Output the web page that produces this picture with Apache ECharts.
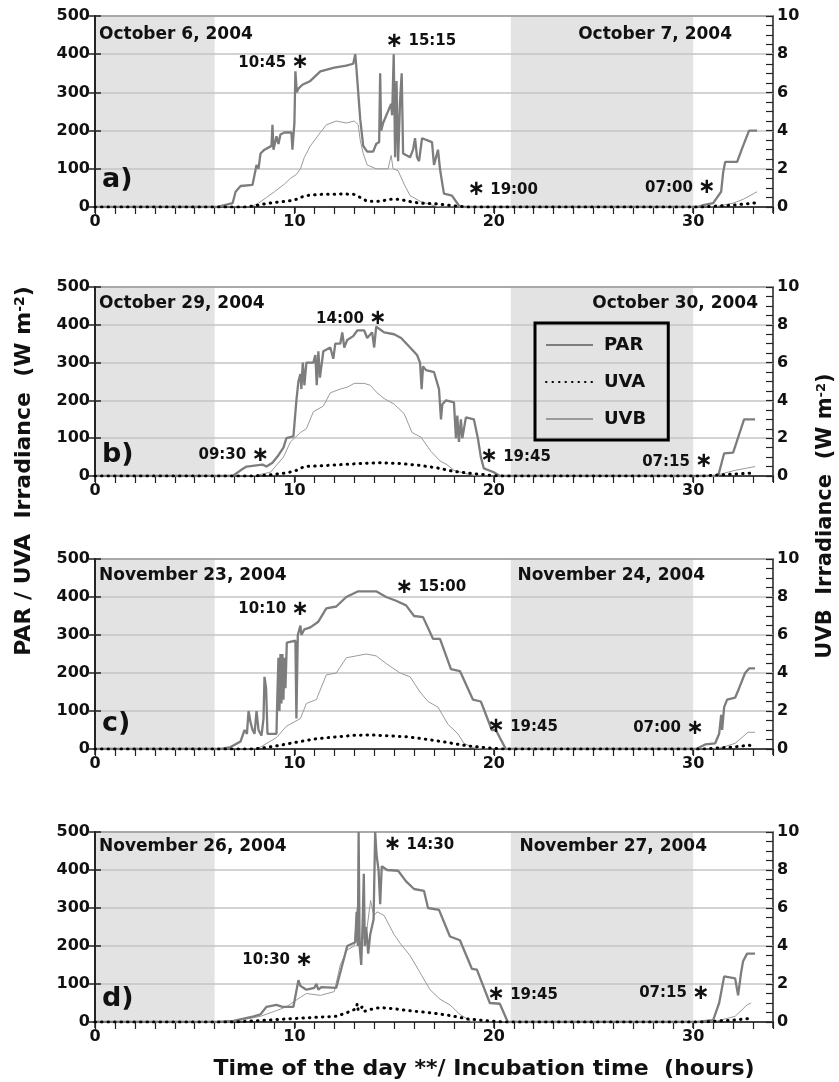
<!DOCTYPE html>
<html>
<head>
<meta charset="utf-8">
<script src="https://cdn.jsdelivr.net/npm/echarts@6/dist/echarts.min.js"></script>
<style>
  html, body { margin: 0; padding: 0; background: #fff; }
  #chart { width: 839px; height: 1082px; }
</style>
</head>
<body>
<div id="chart"></div>
<script>
// 数据: [hour, value]; PAR / UVA in W m-2 (left axis), UVB in W m-2 (right axis)
var parA = [[0,0],[6.1,0],[6.5,5],[6.9,10],[7.05,40],[7.3,55],[7.9,58],[8.1,110],[8.2,100],[8.3,140],[8.5,150],[8.85,160],[8.9,215],[8.95,150],[9.1,185],[9.2,165],[9.3,190],[9.5,195],[9.85,195],[9.9,150],[10.0,220],[10.05,355],[10.12,300],[10.2,310],[10.4,320],[10.8,330],[11.3,355],[12.0,365],[12.6,370],[12.95,375],[13.05,400],[13.1,370],[13.2,300],[13.3,230],[13.45,160],[13.65,145],[13.95,145],[14.1,165],[14.25,170],[14.3,350],[14.35,200],[14.45,220],[14.85,270],[14.9,240],[14.98,400],[15.05,130],[15.12,330],[15.2,120],[15.3,280],[15.38,350],[15.45,140],[15.8,130],[15.95,150],[16.05,180],[16.15,130],[16.25,120],[16.4,180],[16.9,170],[17.0,110],[17.1,130],[17.2,150],[17.3,100],[17.42,60],[17.5,35],[17.9,30],[18.3,0],[30.2,0],[30.5,5],[31.0,10],[31.2,25],[31.4,40],[31.5,90],[31.6,118],[32.2,118],[32.5,160],[32.8,200],[33.2,200]]
var uvaA = [[0,0],[7.5,0],[8.0,3],[8.5,8],[9.0,12],[9.6,15],[10.0,18],[10.3,25],[10.6,30],[11.3,33],[12.5,34],[13.0,33],[13.3,25],[13.65,15],[14.3,15],[14.8,20],[15.3,20],[15.7,15],[16.3,10],[17.2,8],[18.0,3],[18.7,0],[30.5,0],[31.0,2],[32.0,5],[33.0,10],[33.2,12]]
var uvbA = [[0,0],[7.8,0],[8.2,0.2],[8.6,0.5],[9.0,0.8],[9.5,1.2],[9.8,1.5],[10.1,1.7],[10.3,2.0],[10.5,2.6],[10.8,3.2],[11.3,3.9],[11.6,4.3],[12.1,4.5],[12.6,4.4],[13.0,4.5],[13.2,4.3],[13.3,3.5],[13.45,2.8],[13.65,2.2],[14.1,2.0],[14.7,2.0],[14.85,2.7],[14.95,2.0],[15.2,1.9],[15.5,1.2],[15.8,0.6],[16.3,0.3],[16.9,0.1],[17.3,0],[31.0,0],[31.5,0.1],[32.0,0.2],[32.5,0.4],[33.2,0.8]]

var parB = [[0,0],[6.9,0],[7.3,15],[7.6,25],[8.4,30],[8.6,25],[8.9,35],[9.2,55],[9.45,75],[9.6,100],[9.95,105],[10.1,200],[10.2,250],[10.3,270],[10.35,230],[10.42,300],[10.5,240],[10.6,300],[10.95,300],[11.05,320],[11.12,240],[11.2,330],[11.28,260],[11.45,330],[11.8,340],[11.95,310],[12.05,350],[12.3,350],[12.4,380],[12.5,340],[12.65,360],[12.95,370],[13.15,385],[13.5,385],[13.65,365],[13.9,380],[14.0,340],[14.1,395],[14.5,380],[15.0,375],[15.35,365],[15.8,340],[16.15,320],[16.3,300],[16.38,230],[16.45,290],[16.6,280],[17.0,275],[17.25,230],[17.35,150],[17.42,190],[17.6,200],[18.0,195],[18.1,100],[18.17,160],[18.25,90],[18.35,150],[18.42,100],[18.6,155],[19.0,150],[19.2,100],[19.35,50],[19.5,20],[20.0,10],[20.3,0],[31.25,0],[31.55,60],[32.0,62],[32.55,150],[33.1,150]]
var uvaB = [[0,0],[8.0,0],[8.8,3],[9.6,8],[10.1,15],[10.5,25],[11.3,27],[12.3,30],[13.3,33],[14.3,35],[15.3,33],[16.3,28],[17.2,21],[18.0,12],[19.0,6],[20.0,1],[20.5,0],[30.5,0],[31.0,2],[32.0,5],[33.1,8]]
var uvbB = [[0,0],[7.9,0],[8.8,0.2],[9.45,1.0],[9.8,1.8],[10.3,2.3],[10.6,2.5],[10.95,3.4],[11.45,3.7],[11.8,4.4],[12.3,4.6],[12.65,4.7],[13.0,4.9],[13.5,4.9],[13.8,4.8],[14.15,4.4],[14.5,4.1],[15.0,3.8],[15.5,3.3],[15.9,2.3],[16.35,2.05],[16.85,1.3],[17.3,0.8],[17.65,0.6],[18.0,0.3],[18.7,0.1],[19.2,0],[31.0,0],[32.1,0.3],[32.6,0.4],[33.1,0.5]]

var parC = [[0,0],[6.3,0],[6.8,5],[7.3,20],[7.5,50],[7.62,40],[7.7,100],[7.8,70],[7.9,50],[8.0,40],[8.1,100],[8.2,50],[8.35,35],[8.45,80],[8.5,190],[8.58,160],[8.65,40],[9.1,40],[9.15,150],[9.2,240],[9.25,100],[9.3,250],[9.35,120],[9.4,250],[9.45,130],[9.5,240],[9.55,160],[9.62,280],[10.05,285],[10.1,80],[10.17,300],[10.3,325],[10.35,300],[10.5,315],[10.8,320],[11.2,335],[11.6,370],[12.1,375],[12.6,400],[13.2,415],[14.1,415],[14.6,400],[15.1,390],[15.6,378],[16.0,350],[16.45,347],[16.95,290],[17.3,290],[17.85,210],[18.3,205],[18.95,130],[19.35,125],[19.9,50],[20.1,50],[20.6,0],[30.15,0],[30.6,12],[31.1,15],[31.3,40],[31.4,90],[31.45,50],[31.55,110],[31.7,130],[32.1,135],[32.3,160],[32.6,200],[32.8,212],[33.1,212]]
var uvaC = [[0,0],[7.8,0],[8.3,2],[9.3,10],[10.1,18],[11.1,27],[12.1,32],[13.0,36],[13.8,37],[14.6,35],[15.7,32],[16.7,25],[17.7,17],[18.7,8],[19.7,3],[20.5,0],[30.5,0],[31.0,2],[32.0,5],[32.8,10],[33.1,6]]
var uvbC = [[0,0],[8.0,0],[8.3,0.1],[9.1,0.6],[9.6,1.2],[10.3,1.6],[10.6,2.4],[11.1,2.6],[11.6,3.9],[12.1,4.0],[12.6,4.8],[13.1,4.9],[13.6,5.0],[14.1,4.9],[14.6,4.5],[15.3,4.0],[15.8,3.8],[16.3,3.0],[16.7,2.5],[17.2,2.2],[17.7,1.3],[18.2,0.8],[18.5,0.3],[19.0,0.06],[19.5,0],[31.0,0],[31.5,0.1],[32.1,0.3],[32.75,0.88],[33.1,0.88]]

var parD = [[0,0],[6.1,0],[6.95,3],[7.96,15],[8.3,20],[8.6,40],[9.1,45],[9.4,40],[9.95,40],[10.2,110],[10.3,95],[10.45,90],[10.6,85],[11.0,90],[11.1,100],[11.2,85],[11.35,92],[12.1,90],[12.4,150],[12.65,200],[13.05,210],[13.12,290],[13.18,200],[13.22,500],[13.27,200],[13.35,150],[13.42,260],[13.48,390],[13.53,200],[13.6,250],[13.7,180],[13.8,230],[13.97,270],[14.05,500],[14.12,440],[14.22,400],[14.3,310],[14.38,410],[14.65,400],[15.2,398],[15.6,370],[16.0,350],[16.5,345],[16.7,300],[17.25,295],[17.8,225],[18.3,215],[18.9,140],[19.15,138],[19.8,50],[20.3,48],[20.7,0],[30.2,0],[31.0,5],[31.3,50],[31.55,120],[32.1,115],[32.25,70],[32.4,130],[32.5,160],[32.7,180],[33.1,180]]
var uvaD = [[0,0],[7.0,0],[8.0,3],[9.6,8],[11.3,13],[12.1,15],[12.65,25],[13.1,35],[13.15,48],[13.2,30],[13.3,25],[13.4,40],[13.5,28],[13.8,33],[14.3,38],[15.0,35],[15.7,30],[16.7,25],[17.7,18],[18.7,8],[19.7,3],[20.5,0],[30.5,0],[31.0,2],[32.0,5],[33.0,10]]
var uvbD = [[0,0],[6.8,0],[7.3,0.1],[8.3,0.3],[9.1,0.6],[9.6,0.8],[10.3,1.3],[10.6,1.5],[11.3,1.4],[12.0,1.6],[12.3,3.0],[12.65,3.8],[13.0,4.0],[13.15,6.0],[13.3,4.0],[13.65,5.0],[13.82,6.4],[13.98,5.6],[14.15,5.8],[14.5,5.6],[15.0,4.6],[15.33,4.1],[15.8,3.5],[16.3,2.6],[16.8,1.7],[17.3,1.2],[17.8,0.9],[18.3,0.4],[18.9,0],[31.0,0],[32.1,0.3],[32.7,0.9],[32.9,1.0]]

// 注释: [hour, value, text, side]
var annA = [[10.4,377,'10:45','L'],[14.9,434,'15:15','R'],[19.0,45,'19:00','R'],[30.8,50,'07:00','L']]
var annB = [[14.3,416,'14:00','L'],[8.4,55,'09:30','L'],[19.65,51,'19:45','R'],[30.65,38,'07:15','L']]
var annC = [[10.4,368,'10:10','L'],[15.4,426,'15:00','R'],[20.0,58,'19:45','R'],[30.2,55,'07:00','L']]
var annD = [[10.6,163,'10:30','L'],[14.8,466,'14:30','R'],[20.0,71,'19:45','R'],[30.5,76,'07:15','L']]

var dayLabels = [['October 6, 2004','October 7, 2004'],['October 29, 2004','October 30, 2004'],['November 23, 2004','November 24, 2004'],['November 26, 2004','November 27, 2004']]
var panelNames = ['a)', 'b)', 'c)', 'd)']
var nightBands = [[0, 6], [20.85, 30]]
var seriesNames = ['PAR', 'UVA', 'UVB']

var panels = [
  { par: parA, uva: uvaA, uvb: uvbA, ann: annA },
  { par: parB, uva: uvaB, uvb: uvbB, ann: annB },
  { par: parC, uva: uvaC, uvb: uvbC, ann: annC },
  { par: parD, uva: uvaD, uvb: uvbD, ann: annD }
]

var FONT = '"DejaVu Sans", "Liberation Sans", sans-serif'
var gridTop = [16, 287, 559, 832]
var gridH = [191, 189, 190, 190]
var dateRight = [732, 758, 705, 707]
var dateY = [36, 305, 577, 848]
var letterY = [183, 458, 727, 1002]

var myChart = echarts.init(document.getElementById('chart'))

var grids = [], xAxes = [], yAxes = [], series = [], graphics = []
var axisColor = '#222'

panels.forEach(function (p, i) {
  grids.push({
    left: 95, right: 66, top: gridTop[i], height: gridH[i],
    show: true, borderColor: axisColor, borderWidth: 1.5, backgroundColor: 'transparent'
  })
  // x轴 主刻度 + 小时刻度
  xAxes.push({
    gridIndex: i, type: 'value', min: 0, max: 34, interval: 10,
    axisLine: { lineStyle: { color: axisColor, width: 1.5 } },
    axisTick: { length: 6, lineStyle: { color: axisColor, width: 1.5 } },
    axisLabel: {
      margin: 7, fontSize: 16, fontWeight: 'bold', color: '#111', fontFamily: FONT,
      formatter: function (v) { return v % 10 === 0 ? String(v) : '' }
    },
    splitLine: { show: false }
  })
  xAxes.push({
    gridIndex: i, type: 'value', min: 0, max: 34, interval: 1,
    axisLine: { show: false },
    axisTick: { inside: true, length: 7, lineStyle: { color: axisColor, width: 1.2 } },
    axisLabel: { show: false },
    splitLine: { show: false }
  })
  yAxes.push({
    gridIndex: i, type: 'value', position: 'left', min: 0, max: 500, interval: 100,
    axisLine: { show: true, lineStyle: { color: axisColor, width: 1.5 } },
    axisTick: { show: true, length: 6, lineStyle: { color: axisColor, width: 1.5 } },
    axisLabel: { margin: 5, fontSize: 16, fontWeight: 'bold', color: '#111', fontFamily: FONT },
    splitLine: { show: true, lineStyle: { color: '#c4c4c4', width: 1.5 } }
  })
  yAxes.push({
    gridIndex: i, type: 'value', position: 'right', min: 0, max: 10, interval: 2,
    axisLine: { show: true, lineStyle: { color: axisColor, width: 1.5 } },
    axisTick: { show: true, length: 6, lineStyle: { color: axisColor, width: 1.5 } },
    axisLabel: { margin: 4, fontSize: 16, fontWeight: 'bold', color: '#111', fontFamily: FONT },
    splitLine: { show: false }
  })
  yAxes.push({
    gridIndex: i, type: 'value', position: 'right', min: 0, max: 10, interval: 0.5,
    axisLine: { show: false },
    axisTick: { show: true, inside: true, length: 7, lineStyle: { color: axisColor, width: 1.2 } },
    axisLabel: { show: false },
    splitLine: { show: false }
  })

  // 夜间灰色背景 (放在网格线下面)
  series.push({
    type: 'line', xAxisIndex: i * 2, yAxisIndex: i * 3, data: [], silent: true,
    markArea: {
      silent: true, z: -1,
      itemStyle: { color: '#e3e3e3' },
      data: nightBands.map(function (b) { return [{ xAxis: b[0] }, { xAxis: b[1] }] })
    }
  })
  series.push({
    name: 'PAR', type: 'line', xAxisIndex: i * 2, yAxisIndex: i * 3, data: p.par,
    symbol: 'none', z: 4, color: '#7d7d7d',
    lineStyle: { color: '#7d7d7d', width: 2.3 }
  })
  series.push({
    name: 'UVA', type: 'line', xAxisIndex: i * 2, yAxisIndex: i * 3, data: p.uva,
    symbol: 'none', z: 5, color: '#000',
    lineStyle: { color: '#000', width: 3, type: [0.5, 6], cap: 'round' }
  })
  series.push({
    name: 'UVB', type: 'line', xAxisIndex: i * 2, yAxisIndex: i * 3 + 1, data: p.uvb,
    symbol: 'none', z: 3, color: '#9a9a9a',
    lineStyle: { color: '#9a9a9a', width: 1 }
  })
  // 时间注释, 星号落在数据点上
  series.push({
    type: 'scatter', xAxisIndex: i * 2, yAxisIndex: i * 3, symbolSize: 1, silent: true, z: 6,
    itemStyle: { color: 'rgba(0,0,0,0)', opacity: 1 },
    data: p.ann.map(function (a) {
      return {
        value: [a[0], a[1]], name: a[2], side: a[3],
        label: a[3] === 'L' ? { position: 'left', distance: -7 } : { position: 'right', distance: -7 }
      }
    }),
    label: {
      show: true, color: '#111',
      formatter: function (d) {
        return d.data.side === 'L' ? '{t|' + d.name + ' }{s|\u2217}' : '{s|\u2217}{t| ' + d.name + '}'
      },
      rich: {
        t: { fontSize: 15, fontWeight: 'bold', fontFamily: FONT, color: '#111' },
        s: { fontSize: 21, fontWeight: 'bold', fontFamily: FONT, color: '#111' }
      }
    }
  })

  graphics.push({
    type: 'text', left: 99, top: dateY[i] - 10, z: 100,
    style: { text: dayLabels[i][0], font: 'bold 17px ' + FONT, fill: '#111' }
  })
  graphics.push({
    type: 'text', right: 839 - dateRight[i], top: dateY[i] - 10, z: 100,
    style: { text: dayLabels[i][1], font: 'bold 17px ' + FONT, fill: '#111' }
  })
  graphics.push({
    type: 'text', left: 102, top: letterY[i] - 17, z: 100,
    style: { text: panelNames[i], font: 'bold 27px ' + FONT, fill: '#111' }
  })
})

var titleRich = {
  t: { font: 'bold 21px ' + FONT, fill: '#111' },
  sup: { font: 'bold 13px ' + FONT, fill: '#111', verticalAlign: 'top' }
}
var titleRichL = {
  t: { font: 'bold 22px ' + FONT, fill: '#111' },
  sup: { font: 'bold 14px ' + FONT, fill: '#111', verticalAlign: 'top' }
}
graphics.push({
  type: 'text', x: 24, y: 471, rotation: Math.PI / 2, z: 100,
  style: {
    text: '{t|PAR / UVA  Irradiance  (W m}{sup|-2}{t|)}', rich: titleRichL,
    align: 'center', verticalAlign: 'middle'
  }
})
graphics.push({
  type: 'text', x: 826, y: 516, rotation: Math.PI / 2, z: 100,
  style: {
    text: '{t|UVB  Irradiance  (W m}{sup|-2}{t|)}', rich: titleRich,
    align: 'center', verticalAlign: 'middle'
  }
})
graphics.push({
  type: 'text', x: 484, y: 1069, z: 100,
  style: {
    text: 'Time of the day **/ Incubation time  (hours)', font: 'bold 22px ' + FONT,
    fill: '#111', align: 'center', verticalAlign: 'middle'
  }
})

var option = {
  animation: false,
  backgroundColor: '#fff',
  textStyle: { fontFamily: FONT },
  legend: {
    data: seriesNames,
    orient: 'vertical', left: 535, top: 323,
    padding: [12, 22, 11, 10],
    itemWidth: 47, itemHeight: 14, itemGap: 17,
    itemStyle: { opacity: 0 },
    borderColor: '#000', borderWidth: 3, borderRadius: 0,
    backgroundColor: 'transparent',
    textStyle: { fontSize: 18, fontWeight: 'bold', color: '#111', padding: [0, 0, 0, 6], lineHeight: 20 }
  },
  grid: grids,
  xAxis: xAxes,
  yAxis: yAxes,
  series: series,
  graphic: graphics
}

myChart.setOption(option)
</script>
</body>
</html>
